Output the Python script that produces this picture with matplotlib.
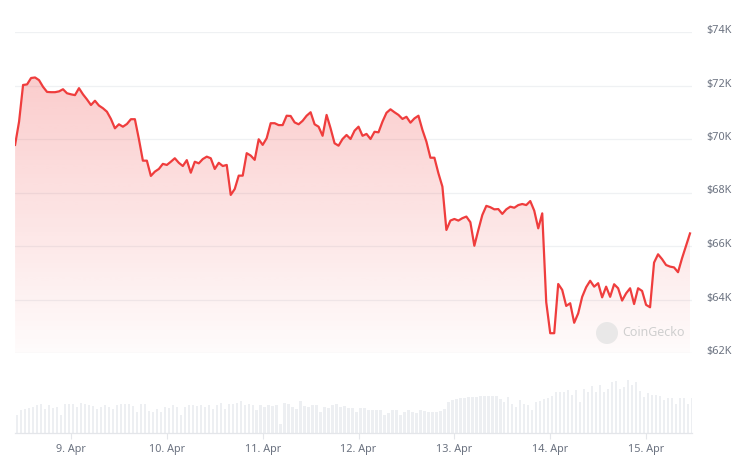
import numpy as np
import pandas as pd
import matplotlib
matplotlib.use("Agg")
import matplotlib.pyplot as plt
import matplotlib.dates as mdates
import matplotlib.transforms as mtransforms
from matplotlib.patches import Polygon, Circle
from matplotlib.ticker import FuncFormatter

# Hourly BTC price (thousand USD), 8 Apr 10:00 -> 15 Apr 11:00
start = "2024-04-08 10:00"
price_k = [
    69.78, 70.65, 72.02, 72.04, 72.28, 72.30, 72.20, 71.95, 71.76, 71.75, 71.75, 71.78,
    71.86, 71.71, 71.67, 71.64, 71.90, 71.67, 71.48, 71.27, 71.43, 71.25, 71.15, 71.02,
    70.75, 70.40, 70.55, 70.46, 70.56, 70.74, 70.74, 70.00, 69.19, 69.19, 68.62, 68.78,
    68.88, 69.07, 69.03, 69.15, 69.28, 69.11, 68.99, 69.21, 68.74, 69.15, 69.09, 69.25,
    69.34, 69.28, 68.88, 69.11, 68.99, 69.03, 67.91, 68.13, 68.63, 68.63, 69.47, 69.38,
    69.22, 69.99, 69.78, 70.03, 70.59, 70.59, 70.52, 70.52, 70.87, 70.86, 70.62, 70.55,
    70.68, 70.87, 71.00, 70.55, 70.46, 70.12, 70.90, 70.40, 69.84, 69.75, 70.00, 70.15,
    70.00, 70.31, 70.46, 70.12, 70.19, 70.00, 70.27, 70.25, 70.65, 70.98, 71.11, 71.00,
    70.90, 70.75, 70.83, 70.61, 70.77, 70.87, 70.34, 69.90, 69.30, 69.30, 68.72, 68.22,
    66.60, 66.95, 67.01, 66.95, 67.04, 67.10, 66.89, 66.01, 66.60, 67.16, 67.50, 67.45,
    67.37, 67.38, 67.20, 67.37, 67.47, 67.43, 67.53, 67.57, 67.53, 67.68, 67.32, 66.66,
    67.22, 63.90, 62.74, 62.74, 64.58, 64.36, 63.76, 63.86, 63.13, 63.48, 64.10, 64.46,
    64.70, 64.48, 64.61, 64.08, 64.48, 64.10, 64.57, 64.42, 63.96, 64.23, 64.42, 63.83,
    64.42, 64.32, 63.80, 63.71, 65.38, 65.69, 65.51, 65.29, 65.23, 65.20, 65.02, 65.54,
    66.00, 66.47,
]

# Hourly traded volume (billion USD)
volume_b = [
    0.89, 1.14, 1.19, 1.25, 1.30, 1.39, 1.47, 1.19, 1.42, 1.25, 1.30, 0.92,
    1.47, 1.47, 1.47, 1.30, 1.52, 1.47, 1.39, 1.35, 1.22, 1.30, 1.39, 1.30,
    1.19, 1.39, 1.47, 1.47, 1.47, 1.35, 1.05, 1.44, 1.44, 1.09, 1.05, 1.22,
    1.05, 1.30, 1.25, 1.39, 1.30, 0.89, 1.30, 1.39, 1.39, 1.35, 1.39, 1.30,
    1.39, 1.22, 1.42, 1.50, 1.19, 1.47, 1.47, 1.52, 1.59, 1.39, 1.47, 1.42,
    1.14, 1.42, 1.30, 1.39, 1.35, 1.42, 0.47, 1.52, 1.47, 1.30, 1.22, 1.60,
    1.35, 1.30, 1.42, 1.39, 1.05, 1.30, 1.25, 1.39, 1.47, 1.30, 1.35, 1.25,
    1.25, 1.05, 1.25, 1.25, 1.15, 1.15, 1.15, 1.15, 0.89, 0.98, 1.15, 1.15,
    0.89, 1.05, 1.15, 1.05, 0.98, 1.15, 1.10, 1.05, 1.05, 1.05, 1.10, 1.20,
    1.55, 1.65, 1.70, 1.75, 1.75, 1.78, 1.80, 1.80, 1.85, 1.85, 1.85, 1.85,
    1.85, 1.70, 1.55, 1.80, 1.45, 1.30, 1.65, 1.45, 1.40, 1.15, 1.55, 1.60,
    1.70, 1.75, 1.85, 2.05, 2.05, 2.05, 2.15, 1.90, 2.15, 1.55, 2.20, 2.05,
    2.35, 2.05, 2.40, 2.05, 2.20, 2.55, 2.60, 2.20, 2.30, 2.65, 2.40, 2.55,
    2.10, 1.80, 2.00, 1.90, 1.90, 1.85, 1.65, 1.75, 1.75, 1.45, 1.75, 1.75,
    1.45, 1.75,
]

price_ticks = [62, 64, 66, 68, 70, 72, 74]

times = pd.date_range(start, periods=len(price_k), freq="h")
x = mdates.date2num(times)
y = np.array(price_k)

W, H = 740, 462
LINE = "#ef3d3d"
TEXT = "#6b7280"
GRID = "#eff1f3"

fig = plt.figure(figsize=(W / 100, H / 100), dpi=100)
plt.rcParams["font.family"] = ["Noto Sans", "DejaVu Sans"]

def px_axes(left, top, right, bottom):
    return fig.add_axes([left / W, (H - bottom) / H, (right - left) / W, (bottom - top) / H])

x0 = x[0] - 0.02 / 24
x1 = x[-1] + 0.5 / 24

# price panel
ax = px_axes(15, 32, 692, 353)
ax.set_xlim(x0, x1)
ax.set_ylim(62, 74)

# vertical gradient under the line: strong at the top, fading at the bottom
grad = np.zeros((256, 1, 4))
grad[:, 0, :3] = matplotlib.colors.to_rgb(LINE)
grad[:, 0, 3] = np.linspace(0.30, 0.02, 256)
im = ax.imshow(grad, extent=[x0, x1, 62, 74], aspect="auto", origin="upper",
               interpolation="bilinear", zorder=1)
verts = np.vstack([[x[0], 62], np.column_stack([x, y]), [x[-1], 62]])
clip = Polygon(verts, closed=True, facecolor="none", edgecolor="none")
ax.add_patch(clip)
im.set_clip_path(clip)

ax.plot(x, y, color=LINE, lw=1.6, zorder=3, solid_joinstyle="round")

for t in price_ticks:
    ax.axhline(t, color=GRID, lw=0.9, zorder=0)

ax.set_yticks(price_ticks)
ax.yaxis.tick_right()
ax.yaxis.set_major_formatter(FuncFormatter(lambda v, p: f"${v:.0f}K"))
ax.tick_params(axis="y", length=0, pad=10, labelsize=7.8, labelcolor=TEXT)
offset = mtransforms.ScaledTranslation(0, 3 / 100, fig.dpi_scale_trans)
for lab in ax.get_yticklabels():
    lab.set_horizontalalignment("left")
    lab.set_transform(lab.get_transform() + offset)
ax.set_xticks([])
for s in ax.spines.values():
    s.set_visible(False)
ax.patch.set_alpha(0)

# watermark
fig.patches.append(Circle((6.07, (H - 333) / 100), 0.11, transform=fig.dpi_scale_trans,
                          facecolor="#e4e4e4", edgecolor="none", alpha=0.8, zorder=4))
fig.text(622 / W, (H - 333) / H, "CoinGecko", fontsize=9, color="#cfcfcf",
         va="center", ha="left", zorder=5)

# volume panel
axv = px_axes(15, 373, 692, 433)
axv.set_xlim(x0, x1)
axv.set_ylim(0, 3.0)
axv.bar(x + 0.5 / 24, volume_b, width=0.6 / 24, color="#edeff2", zorder=1)
axv.set_yticks([])
for s in ["top", "left", "right"]:
    axv.spines[s].set_visible(False)
axv.spines["bottom"].set_color("#e4e6ea")
axv.spines["bottom"].set_linewidth(0.9)
days = pd.date_range("2024-04-09", "2024-04-15", freq="D")
axv.set_xticks(mdates.date2num(days))
axv.set_xticklabels([f"{d.day}. {d:%b}" for d in days])
axv.tick_params(axis="x", length=4, width=0.8, color="#e4e6ea", pad=4,
                labelsize=7.8, labelcolor=TEXT)
axv.patch.set_alpha(0)

fig.savefig("out.png", dpi=100, facecolor="white")
